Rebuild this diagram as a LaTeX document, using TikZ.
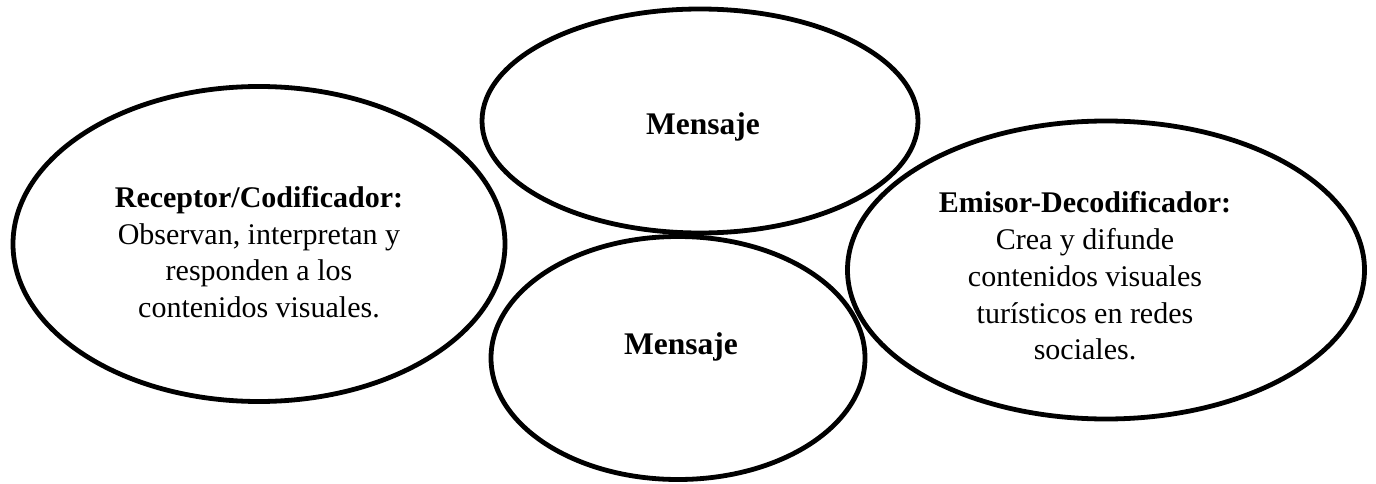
\documentclass[tikz,border=0pt]{standalone}
\usepackage{fontspec}
\setmainfont{Liberation Serif}
\usetikzlibrary{shapes.geometric}
\tikzset{
  oval/.style={draw=black, line width=4.8pt, ellipse, inner sep=0pt},
  body/.style={align=center, inner sep=0pt, font=\fontsize{30}{36.7}\selectfont},
  title/.style={inner sep=0pt, font=\fontsize{31.5}{36}\selectfont\bfseries}
}
\begin{document}
\begin{tikzpicture}[x=1pt,y=-1pt]
\useasboundingbox (0,0) rectangle (1376,484);
\node[oval, minimum width=492pt, minimum height=315pt] (rec) at (259,244) {};
\node[oval, minimum width=436pt, minimum height=224pt] (m1) at (700,121) {};
\node[oval, minimum width=374pt, minimum height=243pt] (m2) at (678,358) {};
\node[oval, minimum width=517pt, minimum height=298pt] (emi) at (1106,270) {};
\node[title, anchor=base] (m1t) at (703,135) {Mensaje};
\node[title, anchor=base] (m2t) at (681,354) {Mensaje};
\node[body] (rect) at (259,252) {\textbf{Receptor/Codificador:}\\Observan, interpretan y\\responden a los\\contenidos visuales.};
\node[body] (emit) at (1085,276) {\textbf{Emisor-Decodificador:}\\Crea y difunde\\contenidos visuales\\turísticos en redes\\sociales.};
\end{tikzpicture}
\end{document}
